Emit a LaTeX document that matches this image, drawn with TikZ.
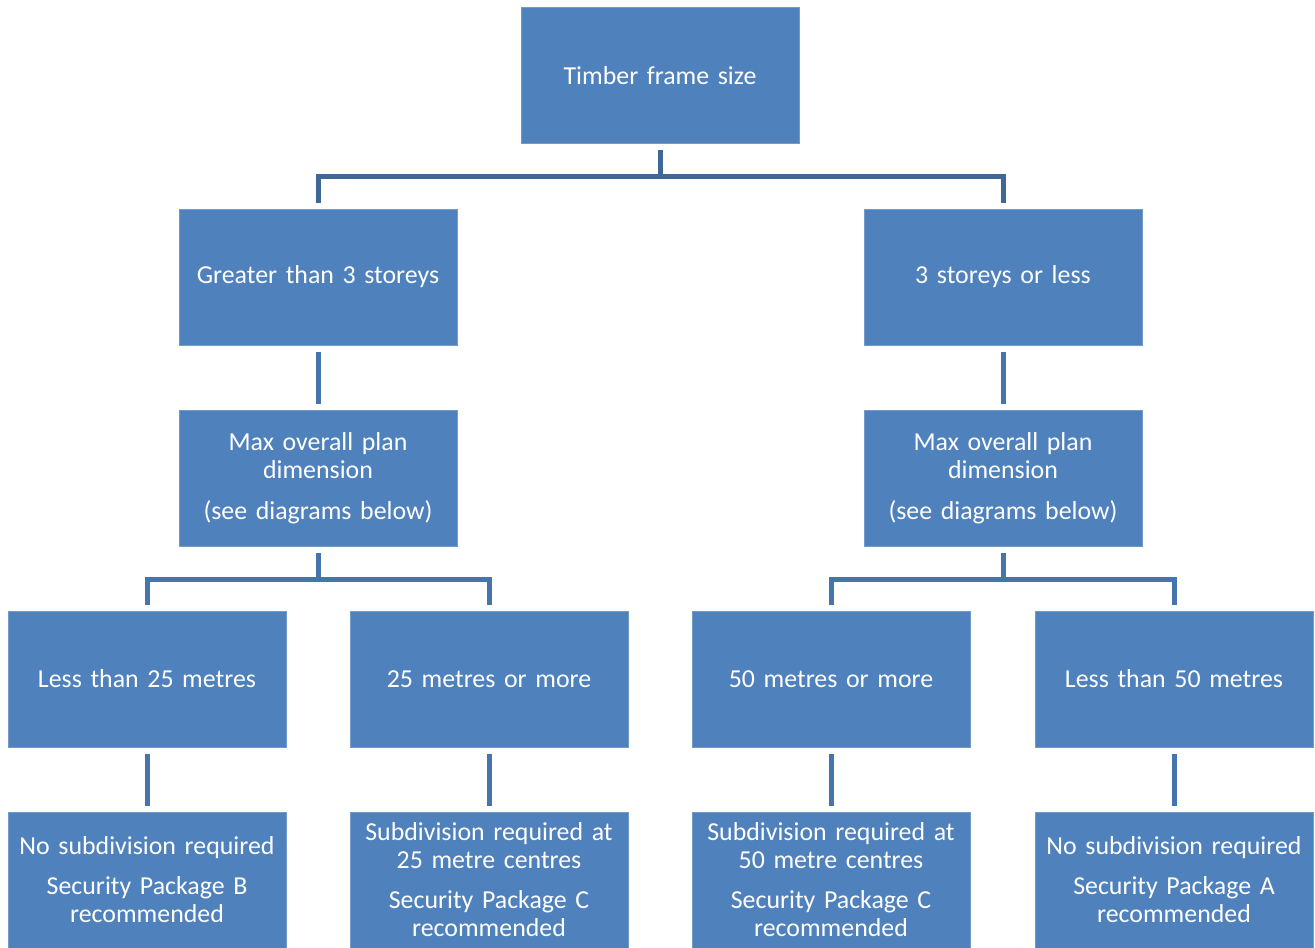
\documentclass[tikz,border=0pt]{standalone}
\usepackage{fontspec}
\setmainfont{Carlito}
\definecolor{boxblue}{HTML}{4F81BD}
\definecolor{darkline}{HTML}{3F6898}
\definecolor{midline}{HTML}{4675AE}
\begin{document}
\begin{tikzpicture}[x=0.75pt,y=-0.75pt,
  box/.style={fill=boxblue,draw=boxblue!80!white,line width=0.4pt,text=white,minimum width=208.5pt,minimum height=102pt,inner sep=0pt,align=center,text width=206pt,font=\fontsize{19.4}{21}\selectfont},
  conn/.style={draw=midline,line width=3.75pt},
  topconn/.style={draw=darkline,line width=3.75pt}]
\useasboundingbox (0,0) rectangle (1315,947);
% nodes
\node[box] (top) at (660,75.5) {Timber frame size};
\node[box] (gt) at (318,277) {Greater than 3 storeys};
\node[box] (le) at (1003,277) {3 storeys or less};
\node[box] (m1) at (318,478) {Max overall plan\\ dimension\\[10pt] (see diagrams below)};
\node[box] (m2) at (1003,478) {Max overall plan\\ dimension\\[10pt] (see diagrams below)};
\node[box] (a) at (147,679) {Less than 25 metres};
\node[box] (b) at (489,679) {25 metres or more};
\node[box] (c) at (831,679) {50 metres or more};
\node[box] (d) at (1174,679) {Less than 50 metres};
\node[box] (a2) at (147,880) {No subdivision required\\[9pt] Security Package B\\ recommended};
\node[box] (b2) at (489,880) {Subdivision required at\\ 25 metre centres\\[9pt] Security Package C\\ recommended};
\node[box] (c2) at (831,880) {Subdivision required at\\ 50 metre centres\\[9pt] Security Package C\\ recommended};
\node[box] (d2) at (1174,880) {No subdivision required\\[9pt] Security Package A\\ recommended};
% connectors
\coordinate (bus1) at (660,176);
\coordinate (bus2) at (318,579);
\coordinate (bus3) at (1003,579);
\draw[topconn] ([yshift=-5pt]top.south) -- (bus1);
\draw[topconn] ([yshift=4.5pt]gt.north) |- (bus1) -| ([yshift=4.5pt]le.north);
\draw[conn] ([yshift=-5pt]gt.south) -- ([yshift=4.5pt]m1.north);
\draw[conn] ([yshift=-5pt]le.south) -- ([yshift=4.5pt]m2.north);
\draw[conn] ([yshift=-5pt]m1.south) -- (bus2);
\draw[conn] ([yshift=4.5pt]a.north) |- (bus2) -| ([yshift=4.5pt]b.north);
\draw[conn] ([yshift=-5pt]m2.south) -- (bus3);
\draw[conn] ([yshift=4.5pt]c.north) |- (bus3) -| ([yshift=4.5pt]d.north);
\draw[conn] ([yshift=-5pt]a.south) -- ([yshift=4.5pt]a2.north);
\draw[conn] ([yshift=-5pt]b.south) -- ([yshift=4.5pt]b2.north);
\draw[conn] ([yshift=-5pt]c.south) -- ([yshift=4.5pt]c2.north);
\draw[conn] ([yshift=-5pt]d.south) -- ([yshift=4.5pt]d2.north);
\end{tikzpicture}
\end{document}
